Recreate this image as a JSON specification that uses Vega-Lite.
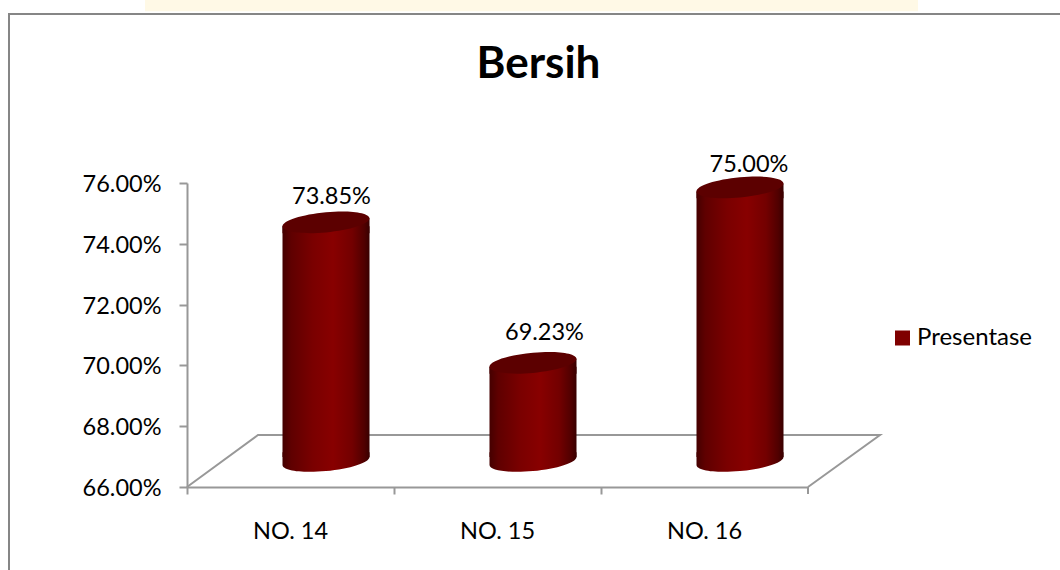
{"$schema":"https://vega.github.io/schema/vega-lite/v6.json","width":621,"height":304,"autosize":{"type":"none"},"padding":{"left":187,"top":183,"right":252,"bottom":83},"background":"white","title":{"text":"Bersih","font":"Lato","fontWeight":"bold","fontSize":44,"color":"#000000","anchor":"middle","frame":"group","dx":41,"offset":-87},"config":{"view":{"stroke":null},"font":"Lato"},"datasets":{"bars":[{"kategori":"NO. 14","presentase":0.7385},{"kategori":"NO. 15","presentase":0.6923},{"kategori":"NO. 16","presentase":0.75}],"floor":[{"u":0,"v":0.66,"o":1},{"u":71,"v":0.6771,"o":2},{"u":693,"v":0.6771,"o":3},{"u":621,"v":0.66,"o":4}],"frame":[{"u":-178,"v":0.63,"o":1},{"u":-178,"v":0.8156,"o":2},{"u":880,"v":0.8156,"o":3}]},"layer":[{"layer":[{"data":{"values":[{"u":-42,"u2":731,"v":0.8165,"v2":0.8202}]},"mark":{"type":"rect","color":"#FFF9E6"},"encoding":{"x":{"field":"u","type":"quantitative","axis":null,"scale":{"domain":[0,621],"nice":false,"zero":false}},"x2":{"field":"u2"},"y":{"field":"v","type":"quantitative","scale":{"domain":[0.66,0.76],"nice":false,"zero":false},"axis":{"title":null,"values":[0.66,0.68,0.7,0.72,0.74,0.76],"format":".2%","labelFontSize":23.5,"labelFont":"Lato","labelColor":"#000000","labelPadding":18,"labelOffset":1.5,"tickSize":8,"tickWidth":2,"tickColor":"#989898","domainColor":"#989898","domainWidth":2,"grid":false}},"y2":{"field":"v2"}}},{"data":{"name":"frame"},"mark":{"type":"line","color":"#868686","strokeWidth":2,"interpolate":"linear"},"encoding":{"order":{"field":"o"},"x":{"field":"u","type":"quantitative","axis":null,"scale":{"domain":[0,621],"nice":false,"zero":false}},"y":{"field":"v","type":"quantitative","scale":{"domain":[0.66,0.76],"nice":false,"zero":false}}}},{"data":{"name":"floor"},"mark":{"type":"line","color":"#989898","strokeWidth":2,"interpolate":"linear"},"encoding":{"order":{"field":"o"},"x":{"field":"u","type":"quantitative","axis":null,"scale":{"domain":[0,621],"nice":false,"zero":false}},"y":{"field":"v","type":"quantitative","scale":{"domain":[0.66,0.76],"nice":false,"zero":false}}}},{"data":{"values":[{"u":621,"v":0.66,"v2":0.6577}]},"mark":{"type":"rule","color":"#989898","strokeWidth":2},"encoding":{"x":{"field":"u","type":"quantitative","axis":null,"scale":{"domain":[0,621],"nice":false,"zero":false}},"y":{"field":"v","type":"quantitative","scale":{"domain":[0.66,0.76],"nice":false,"zero":false}},"y2":{"field":"v2"}}}]},{"data":{"name":"bars"},"encoding":{"x":{"field":"kategori","type":"nominal","sort":null,"scale":{"type":"band","domain":["NO. 14","NO. 15","NO. 16"],"paddingInner":0,"paddingOuter":0},"axis":{"title":null,"labelAngle":0,"labelFontSize":23.5,"labelFont":"Lato","labelColor":"#000000","labelPadding":37,"labelBaseline":"middle","tickSize":7,"tickWidth":2,"tickColor":"#989898","domainColor":"#989898","domainWidth":2,"bandPosition":0}}},"layer":[{"mark":{"type":"point","filled":true,"opacity":1,"size":0},"encoding":{"y":{"field":"presentase","type":"quantitative","scale":{"domain":[0.66,0.76],"nice":false,"zero":false}},"color":{"datum":"Presentase","type":"nominal","scale":{"domain":["Presentase"],"range":["#7F0000"]},"legend":{"title":null,"orient":"none","legendX":703.5,"legendY":143,"symbolType":"square","symbolSize":225,"symbolStrokeWidth":0,"symbolOpacity":1,"labelFontSize":24,"labelFont":"Lato","labelColor":"#000000","labelOffset":2.5}}}},{"mark":{"type":"bar","xOffset":35.5,"yOffset":-22,"y2Offset":-30,"width":87,"color":{"gradient":"linear","x1":0,"x2":1,"y1":0,"y2":0,"stops":[{"offset":0,"color":"#450000"},{"offset":0.1,"color":"#5F0000"},{"offset":0.35,"color":"#7A0000"},{"offset":0.58,"color":"#880000"},{"offset":0.8,"color":"#730000"},{"offset":0.94,"color":"#500000"},{"offset":1,"color":"#380000"}]}},"encoding":{"y":{"field":"presentase","type":"quantitative","scale":{"domain":[0.66,0.76],"nice":false,"zero":false}},"y2":{"datum":0.66}}},{"mark":{"type":"point","filled":true,"opacity":1,"strokeWidth":0,"size":7569,"xOffset":35.5,"yOffset":-26,"shape":"M1,-0.092C1,0.036,0.552,0.181,0,0.232C-0.552,0.283,-1,0.220,-1,0.092L-1,-0.2L1,-0.2Z","color":{"gradient":"linear","x1":0,"x2":1,"y1":0,"y2":0,"stops":[{"offset":0,"color":"#450000"},{"offset":0.1,"color":"#5F0000"},{"offset":0.35,"color":"#7A0000"},{"offset":0.58,"color":"#880000"},{"offset":0.8,"color":"#730000"},{"offset":0.94,"color":"#500000"},{"offset":1,"color":"#380000"}]}},"encoding":{"y":{"datum":0.66,"type":"quantitative","scale":{"domain":[0.66,0.76],"nice":false,"zero":false}}}},{"mark":{"type":"point","filled":true,"opacity":1,"strokeWidth":0,"size":7569,"xOffset":35.5,"yOffset":-26,"shape":"M1,-0.092L-1,0.092L-1,0.25L1,0.25Z","color":{"gradient":"linear","x1":0,"x2":1,"y1":0,"y2":0,"stops":[{"offset":0,"color":"#450000"},{"offset":0.1,"color":"#5F0000"},{"offset":0.35,"color":"#7A0000"},{"offset":0.58,"color":"#880000"},{"offset":0.8,"color":"#730000"},{"offset":0.94,"color":"#500000"},{"offset":1,"color":"#380000"}]}},"encoding":{"y":{"field":"presentase","type":"quantitative","scale":{"domain":[0.66,0.76],"nice":false,"zero":false}}}},{"mark":{"type":"point","filled":true,"opacity":1,"strokeWidth":0,"size":7569,"xOffset":35.5,"yOffset":-26,"shape":"M1,-0.092C1,0.036,0.552,0.181,0,0.232C-0.552,0.283,-1,0.220,-1,0.092C-1,-0.036,-0.552,-0.181,0,-0.232C0.552,-0.283,1,-0.220,1,-0.092Z","color":"#5C0000"},"encoding":{"y":{"field":"presentase","type":"quantitative","scale":{"domain":[0.66,0.76],"nice":false,"zero":false}}}},{"transform":[{"filter":"datum.kategori === 'NO. 14'"}],"mark":{"type":"text","fontSize":23.5,"font":"Lato","color":"#000000","dx":41,"dy":-51.5,"baseline":"middle"},"encoding":{"y":{"field":"presentase","type":"quantitative","scale":{"domain":[0.66,0.76],"nice":false,"zero":false}},"text":{"field":"presentase","type":"quantitative","format":".2%"}}},{"transform":[{"filter":"datum.kategori === 'NO. 15'"}],"mark":{"type":"text","fontSize":23.5,"font":"Lato","color":"#000000","dx":47,"dy":-55.5,"baseline":"middle"},"encoding":{"y":{"field":"presentase","type":"quantitative","scale":{"domain":[0.66,0.76],"nice":false,"zero":false}},"text":{"field":"presentase","type":"quantitative","format":".2%"}}},{"transform":[{"filter":"datum.kategori === 'NO. 16'"}],"mark":{"type":"text","fontSize":23.5,"font":"Lato","color":"#000000","dx":44.5,"dy":-48.5,"baseline":"middle"},"encoding":{"y":{"field":"presentase","type":"quantitative","scale":{"domain":[0.66,0.76],"nice":false,"zero":false}},"text":{"field":"presentase","type":"quantitative","format":".2%"}}}]}],"resolve":{"scale":{"x":"independent"}}}
